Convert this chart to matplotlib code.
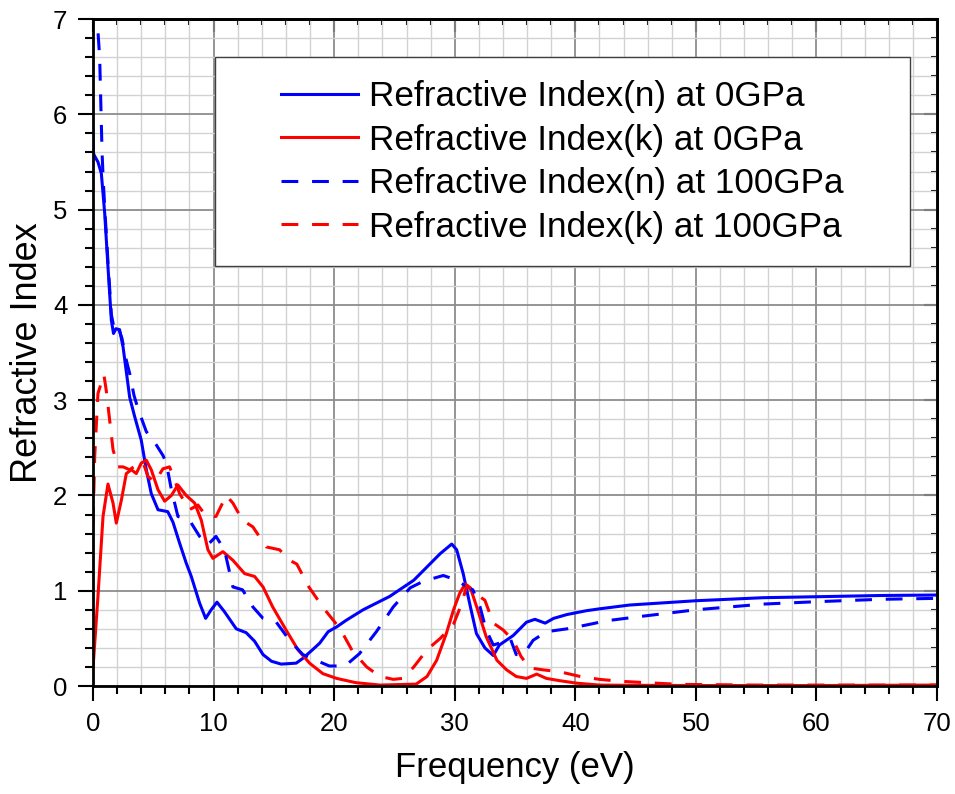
import matplotlib
matplotlib.use("Agg")
import matplotlib.pyplot as plt
from matplotlib.ticker import MultipleLocator
from matplotlib.patches import Rectangle

plt.rcParams['font.family'] = ['Liberation Sans', 'DejaVu Sans']

# n at 0 GPa (solid blue)
e_n0 = [0, 0.02, 0.1, 0.41, 0.69, 0.97, 1.24, 1.52, 1.7, 1.9, 2.2, 2.49, 3.04, 3.45, 4.0, 4.42,
        4.83, 5.39, 6.2, 6.63, 7.18, 7.73, 8.15, 8.84, 9.34, 9.8, 10.28, 10.9, 11.88, 12.7,
        13.4, 14.1, 14.8, 15.6, 16.85, 17.4, 18.2, 18.8, 19.5, 20.2, 21.0, 22.4, 24.6, 26.6,
        27.7, 28.8, 29.75, 30.16, 30.7, 31.3, 31.8, 32.5, 33.2, 33.7, 34.85, 35.95, 36.65,
        37.5, 38.2, 39.3, 40.9, 42.0, 44.5, 50, 55.6, 60, 65.3, 70]
n_0gpa = [5.82, 5.6, 5.57, 5.50, 5.38, 4.96, 4.40, 3.84, 3.70, 3.75, 3.74, 3.56, 3.03, 2.83, 2.58,
          2.27, 2.02, 1.85, 1.83, 1.72, 1.50, 1.29, 1.15, 0.87, 0.71, 0.80, 0.88, 0.78, 0.60,
          0.56, 0.47, 0.33, 0.26, 0.23, 0.24, 0.29, 0.38, 0.45, 0.57, 0.62, 0.69, 0.80, 0.94,
          1.11, 1.25, 1.39, 1.49, 1.43, 1.18, 0.83, 0.55, 0.40, 0.32, 0.43, 0.53, 0.67, 0.70,
          0.66, 0.71, 0.75, 0.79, 0.81, 0.85, 0.895, 0.927, 0.937, 0.95, 0.955]

# k at 0 GPa (solid red)
e_k0 = [0, 0.41, 0.83, 1.24, 1.66, 1.93, 2.35, 2.76, 3.18, 3.59, 4.0, 4.42, 4.83, 5.39, 5.94,
        6.5, 7.04, 7.73, 8.43, 8.98, 9.53, 9.94, 10.77, 11.6, 12.57, 13.4, 14.1, 14.9, 16.0,
        17.0, 17.96, 19.06, 20.2, 21.8, 23.8, 26.8, 27.7, 28.5, 29.3, 29.9, 30.4, 30.85, 31.3,
        31.9, 32.6, 33.5, 34.3, 35.1, 35.95, 36.8, 37.6, 38.7, 40.1, 42.0, 44, 50, 60, 70]
k_0gpa = [0.19, 0.94, 1.78, 2.12, 1.92, 1.71, 1.95, 2.23, 2.27, 2.23, 2.34, 2.37, 2.27, 2.06, 1.94,
          2.00, 2.11, 2.00, 1.92, 1.74, 1.43, 1.34, 1.41, 1.32, 1.18, 1.15, 1.04, 0.83, 0.59,
          0.38, 0.24, 0.13, 0.08, 0.035, 0.01, 0.02, 0.10, 0.27, 0.55, 0.80, 0.97, 1.07, 1.03,
          0.80, 0.52, 0.27, 0.17, 0.10, 0.08, 0.125, 0.08, 0.056, 0.03, 0.01, 0.008, 0.005,
          0.005, 0.01]

# n at 100 GPa (dashed blue)
e_n100 = [0.42, 0.55, 0.65, 0.75, 0.85, 1.0, 1.24, 1.52, 1.8, 2.1, 2.4, 2.7, 3.04, 3.4, 3.73,
          4.42, 5.25, 5.8, 6.08, 6.5, 7.04, 8.0, 8.84, 9.5, 10.2, 10.9, 11.6, 12.4, 13.26, 14.1,
          15.2, 16.3, 17.4, 18.3, 19.6, 20.9, 22.1, 23.5, 24.9, 26.3, 27.4, 29.05, 30.2, 31.0,
          31.5, 32.1, 32.6, 33.2, 33.7, 34.6, 35.1, 35.7, 36.5, 37.6, 39.3, 40.9, 42.6, 45.4,
          50, 55.6, 60, 65.3, 70]
n_100gpa = [6.85, 6.6, 6.1, 5.6, 5.3, 4.96, 4.45, 3.9, 3.72, 3.76, 3.65, 3.45, 3.28, 3.05, 2.91,
            2.67, 2.53, 2.42, 2.34, 2.06, 1.78, 1.74, 1.57, 1.48, 1.57, 1.43, 1.04, 1.01, 0.83,
            0.71, 0.67, 0.48, 0.33, 0.28, 0.21, 0.21, 0.34, 0.57, 0.83, 1.03, 1.10, 1.16, 1.11,
            1.04, 1.01, 0.83, 0.59, 0.43, 0.45, 0.50, 0.33, 0.33, 0.48, 0.57, 0.60, 0.64, 0.685,
            0.73, 0.80, 0.86, 0.885, 0.91, 0.92]

# k at 100 GPa (dashed red)
e_k100 = [0, 0.14, 0.41, 0.9, 1.1, 1.38, 1.66, 2.07, 2.49, 3.04, 3.59, 4.14, 4.56, 5.11, 5.8,
          6.35, 6.77, 7.18, 8.0, 8.7, 9.39, 10.2, 11.05, 11.6, 12.4, 13.26, 14.36, 15.47, 16.3,
          16.9, 17.9, 19.1, 20.5, 21.5, 22.7, 23.8, 24.9, 25.7, 26.6, 27.7, 28.8, 29.9, 30.6,
          31.0, 31.5, 32.5, 33.2, 34.0, 34.85, 35.5, 36.2, 37.3, 38.7, 40.4, 42.0, 43.7, 45.9,
          48.7, 55, 70]
k_100gpa = [1.70, 2.41, 3.07, 3.27, 3.1, 2.79, 2.48, 2.30, 2.30, 2.27, 2.32, 2.35, 2.20, 2.14,
            2.28, 2.30, 2.16, 2.02, 1.85, 1.90, 1.78, 1.78, 2.0, 1.92, 1.74, 1.67, 1.46, 1.43,
            1.32, 1.28, 1.04, 0.82, 0.60, 0.37, 0.20, 0.10, 0.07, 0.08, 0.20, 0.38, 0.50, 0.65,
            0.87, 1.06, 0.99, 0.90, 0.66, 0.59, 0.48, 0.31, 0.19, 0.17, 0.15, 0.10, 0.07, 0.05,
            0.035, 0.017, 0.01, 0.01]

fig = plt.figure(figsize=(9.55, 7.94), dpi=100)
ax = fig.add_axes([0.0974, 0.136, 0.8838, 0.840])

lw = 2.2
ax.plot(e_n0, n_0gpa, color='#0000ff', lw=lw, label='Refractive Index(n) at 0GPa')
ax.plot(e_k0, k_0gpa, color='#ff0000', lw=lw, label='Refractive Index(k) at 0GPa')
ax.plot(e_n100, n_100gpa, color='#0000ff', lw=lw, dashes=(5.5, 4.5), label='Refractive Index(n) at 100GPa')
ax.plot(e_k100, k_100gpa, color='#ff0000', lw=lw, dashes=(5.5, 4.5), label='Refractive Index(k) at 100GPa')

ax.set_xlim(0, 70)
ax.set_ylim(0, 7)
ax.xaxis.set_major_locator(MultipleLocator(10))
ax.xaxis.set_minor_locator(MultipleLocator(2))
ax.yaxis.set_major_locator(MultipleLocator(1))
ax.yaxis.set_minor_locator(MultipleLocator(0.2))

ax.grid(which='major', color='#8c8c8c', lw=1.3)
ax.grid(which='minor', color='#d2d2d2', lw=1.0)
ax.set_axisbelow(True)

for s in ax.spines.values():
    s.set_linewidth(2)
    s.set_zorder(5)

ax.tick_params(which='both', direction='out', width=1.5, top=False, right=False,
               labelsize=18.5, pad=8)
ax.tick_params(which='major', length=10.5)
ax.tick_params(which='minor', length=5.5)
# inward mirror ticks on top and right
ax2 = ax.secondary_xaxis('top')
ax2.xaxis.set_major_locator(MultipleLocator(10))
ax2.xaxis.set_minor_locator(MultipleLocator(2))
ax2.tick_params(which='both', direction='in', width=1.5, labeltop=False)
ax2.tick_params(which='major', length=9.5)
ax2.tick_params(which='minor', length=4.5)
ax3 = ax.secondary_yaxis('right')
ax3.yaxis.set_major_locator(MultipleLocator(1))
ax3.yaxis.set_minor_locator(MultipleLocator(0.2))
ax3.tick_params(which='both', direction='in', width=1.5, labelright=False)
ax3.tick_params(which='major', length=9.5)
ax3.tick_params(which='minor', length=4.5)
for sec in (ax2, ax3):
    for s in sec.spines.values():
        s.set_linewidth(2)

ax.set_xlabel('Frequency (eV)', fontsize=25, labelpad=11)
ax.set_ylabel('Refractive Index', fontsize=26, labelpad=6)

# legend box drawn separately so the wide inner margins match
ax.add_patch(Rectangle((0.1445, 0.630), 0.8235, 0.313, transform=ax.transAxes,
                       facecolor='white', edgecolor='#404040', lw=1.0, zorder=6))
leg = ax.legend(loc='center', bbox_to_anchor=(0.556, 0.786), fontsize=25.3,
                handlelength=2.2, handletextpad=0.3, labelspacing=0.3,
                borderpad=0, borderaxespad=0, frameon=False)
leg.set_zorder(7)

fig.savefig('out.png', dpi=100)
